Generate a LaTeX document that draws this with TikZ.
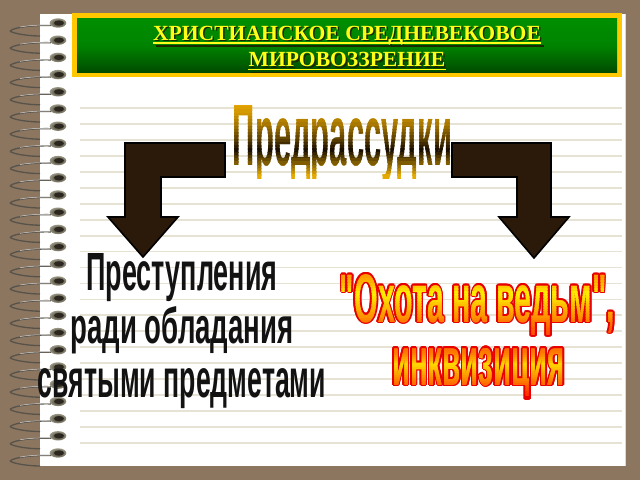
\documentclass[tikz,border=0pt]{standalone}
\usepackage{fontspec}
\setmainfont{Liberation Serif}
\setsansfont{Liberation Sans}
\font\rawsfb="Liberation Sans/B" at 10pt
\definecolor{bgbrown}{HTML}{8C7660}
\definecolor{ruleline}{HTML}{E6E3D5}
\definecolor{titleborder}{HTML}{FFC800}
\definecolor{titletext}{HTML}{FFFF1A}
\definecolor{titleshadow}{HTML}{1A2A00}
\definecolor{greentop}{HTML}{008E00}
\definecolor{greenbot}{HTML}{004C00}
\definecolor{arrowbrown}{HTML}{2B1A0A}
\definecolor{wiredark}{HTML}{57534A}
\definecolor{wirelight}{HTML}{D8D8D8}
\definecolor{holedark}{HTML}{2C271E}
\definecolor{holelight}{HTML}{9A9684}
\definecolor{leftink}{HTML}{121212}
\definecolor{outred}{HTML}{E80000}
\definecolor{gA}{HTML}{E8A800}
\definecolor{gB}{HTML}{1A0E00}
\definecolor{gC}{HTML}{F2B400}
\newcommand\fitbox[3]{\resizebox{#1}{#2}{\vphantom{П}#3}}
% gradient text: #1 name, #2 x, #3 baseline y, #4 ytop, #5 ymid, #6 ybot, #7 content
\newcommand\gradtext[7]{%
  \foreach \i in {0,...,23}{%
    \pgfmathsetmacro\gya{#4+(#6-#4)*\i/24}%
    \pgfmathsetmacro\gyb{#4+(#6-#4)*(\i+1)/24+0.7}%
    \pgfmathsetmacro\gym{#4+(#6-#4)*(\i+0.5)/24}%
    \pgfmathtruncatemacro\gup{\gym<#5 ? 1 : 0}%
    \pgfmathtruncatemacro\gpa{max(0,min(100,100*((\gym-#4)/(#5-#4))^1.6))}%
    \pgfmathtruncatemacro\gpb{max(0,min(100,100*(\gym-#5)/(#6-#5)))}%
    \ifnum\gup=1 \colorlet{bandc}{gB!\gpa!gA}\else\colorlet{bandc}{gC!\gpb!gB}\fi
    \begin{scope}
      \clip (0,\gya) rectangle (640,\gyb);
      \node[bigtext, text=bandc] (#1-\i) at (#2,#3) {#7};
    \end{scope}
  }%
}
\tikzset{
  bigtext/.style={anchor=base, inner sep=0pt, outer sep=0pt, font=\rawsfb},
  titlefont/.style={anchor=base, inner sep=0pt, font=\rmfamily\bfseries\fontsize{21.6}{26}\selectfont},
  wire/.style={draw=wiredark, line width=1.3pt},
  wirehi/.style={draw=wirelight, line width=0.5pt},
  blockarrow/.style={fill=arrowbrown, draw=black, line width=1.6pt, line join=miter},
}
\begin{document}
\begin{tikzpicture}[x=1pt,y=-1pt]
\useasboundingbox (0,0) rectangle (640,480);
\fill[bgbrown] (0,0) rectangle (640,480);
% page
\fill[white] (40,14) rectangle (625,466);
\draw[black!15, line width=0.8pt] (625,14) -- (625,466);
% ruled lines
\foreach \k in {0,...,21}{
  \draw[ruleline, line width=1.8pt] (80,108+\k*15.95) -- (622,108+\k*15.95);
}
% spiral rings
\foreach \k in {0,...,25}{
  \pgfmathsetmacro\yy{23+\k*17.2}
  \draw[wire] (10,\yy+8) .. controls (14,\yy+11) and (30,\yy+13) .. (40,\yy+13);
  \draw[wire] (51,\yy+2.5) .. controls (35,\yy+2) and (14,\yy+4) .. (10,\yy+8);
  \draw[wirehi] (50,\yy+2.2) .. controls (38,\yy+1.8) and (28,\yy+2.6) .. (20,\yy+4);
  \shade[inner color=holedark, outer color=holelight] (58,\yy) ellipse (8.3 and 4.7);
  \fill[holedark] (59,\yy) ellipse (5 and 2.6);
}
% title box
\fill[titleborder] (72,13) rectangle (622,77);
\shade[top color=greentop, bottom color=greenbot, middle color=greentop!85!greenbot] (77,18) rectangle (617,72);
\node[titlefont, text=titleshadow] (t1s) at (348.5,41.5) {ХРИСТИАНСКОЕ СРЕДНЕВЕКОВОЕ};
\node[titlefont, text=titleshadow] (t2s) at (348.5,68) {МИРОВОЗЗРЕНИЕ};
\draw[titleshadow, line width=1.4pt] ([xshift=1.5pt,yshift=-4.5pt]t1s.base west) -- ([xshift=1.5pt,yshift=-4.5pt]t1s.base east);
\draw[titleshadow, line width=1.4pt] ([xshift=1.5pt,yshift=-4.5pt]t2s.base west) -- ([xshift=1.5pt,yshift=-4.5pt]t2s.base east);
\node[titlefont, text=titletext] (t1) at (347,40) {ХРИСТИАНСКОЕ СРЕДНЕВЕКОВОЕ};
\node[titlefont, text=titletext] (t2) at (347,66.5) {МИРОВОЗЗРЕНИЕ};
\draw[titletext, line width=1.4pt] ([yshift=-3pt]t1.base west) -- ([yshift=-3pt]t1.base east);
\draw[titletext, line width=1.4pt] ([yshift=-3pt]t2.base west) -- ([yshift=-3pt]t2.base east);
% bent arrows
\draw[blockarrow] (225,143) -- (125,143) -- (125,217) -- (108,217) -- (143,257) -- (178,217) -- (161,217) -- (161,177) -- (225,177) -- cycle;
\draw[blockarrow] (452,143) -- (551,143) -- (551,217) -- (569,217) -- (534,258) -- (499,217) -- (517,217) -- (517,177) -- (452,177) -- cycle;
% Предрассудки
\gradtext{pre}{342.5}{165}{100}{150}{178}{\fitbox{219pt}{60pt}{Предрассудки}}
% left text
\node[bigtext, text=leftink] (l1) at (182,290) {\fitbox{191pt}{37pt}{Преступления}};
\node[bigtext, text=leftink] (l2) at (182,343) {\fitbox{223pt}{37pt}{ради обладания}};
\node[bigtext, text=leftink] (l3) at (182,397) {\fitbox{288pt}{37pt}{святыми предметами}};
% right text: red outline
\foreach \a in {0,30,...,330}{
  \node[bigtext, text=outred, shift={(\a:1.7pt)}] (r1o) at (477.5,322) {\fitbox{275pt}{48pt}{"Охота на ведьм",}};
  \node[bigtext, text=outred, shift={(\a:1.7pt)}] (r2o) at (478.5,385) {\fitbox{173pt}{48pt}{инквизиция}};
}
\definecolor{gA}{HTML}{FF9000}
\definecolor{gB}{HTML}{FFF200}
\definecolor{gC}{HTML}{FF4A00}
\gradtext{ra}{477.5}{322}{270}{294}{334}{\fitbox{275pt}{48pt}{"Охота на ведьм",}}
\definecolor{gA}{HTML}{FF6A00}
\definecolor{gB}{HTML}{FFD800}
\definecolor{gC}{HTML}{FF2A00}
\gradtext{rb}{478.5}{385}{348}{365}{395}{\fitbox{173pt}{48pt}{инквизиция}}
\end{tikzpicture}
\end{document}
